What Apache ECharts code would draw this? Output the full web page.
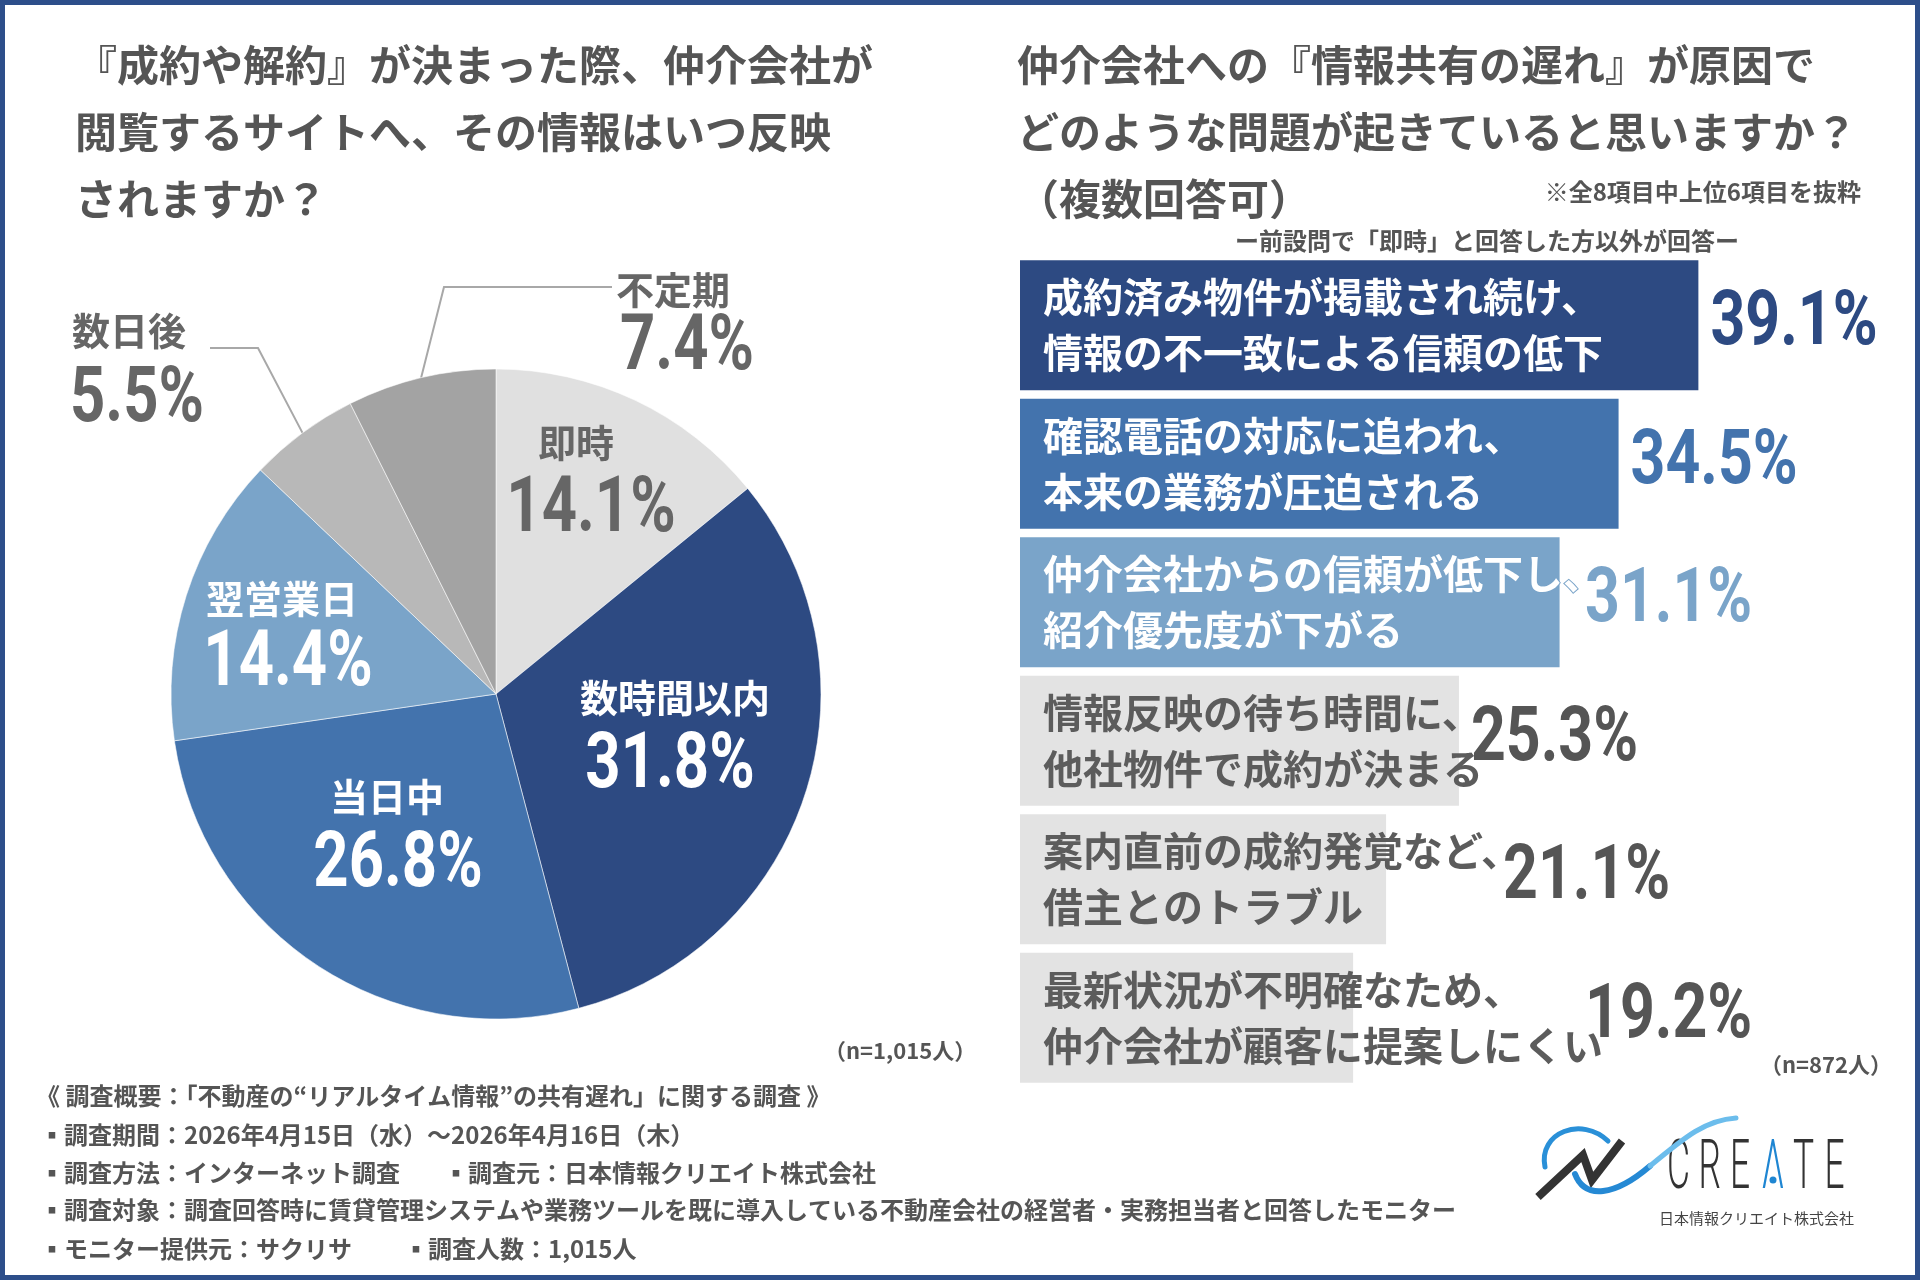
<!DOCTYPE html>
<html>
<head>
<meta charset="utf-8">
<title>情報共有の遅れに関する調査</title>
<script src="https://cdn.jsdelivr.net/npm/echarts@6/dist/echarts.min.js"></script>
<style>
  html, body { margin: 0; padding: 0; background: #fff; }
  #chart { width: 1920px; height: 1280px; }
</style>
</head>
<body>
<div id="chart"></div>
<script>
// 左：反映タイミング（円グラフ）
const pieNames = ['即時', '数時間以内', '当日中', '翌営業日', '数日後', '不定期'];
const pieValues = [14.1, 31.8, 26.8, 14.4, 5.5, 7.4];

// 右：起きている問題（横棒グラフ）
const barNames = [
  '成約済み物件が掲載され続け、\n情報の不一致による信頼の低下',
  '確認電話の対応に追われ、\n本来の業務が圧迫される',
  '仲介会社からの信頼が低下し、\n紹介優先度が下がる',
  '情報反映の待ち時間に、\n他社物件で成約が決まる',
  '案内直前の成約発覚など、\n借主とのトラブル',
  '最新状況が不明確なため、\n仲介会社が顧客に提案しにくい'
];
const barValues = [39.1, 34.5, 31.1, 25.3, 21.1, 19.2];

// 見た目
const NAVY = '#2d4a82', MID = '#4373ad', LIGHT = '#7aa4c9';
const pieColors = ['#e0e0e0', NAVY, MID, LIGHT, '#b8b8b8', '#a3a3a3'];
const pieTextColors = ['#666', '#fff', '#fff', '#fff', '#666', '#666'];
const barColors = [NAVY, MID, LIGHT, '#e3e3e3', '#e3e3e3', '#e3e3e3'];
const barTextColors = ['#fff', '#fff', '#fff', '#5c5c5c', '#5c5c5c', '#5c5c5c'];
const barValueColors = [NAVY, MID, LIGHT, '#555', '#555', '#555'];

const JP = '"Noto Sans CJK JP", "Noto Sans", sans-serif';
const NUM = 'Roboto, sans-serif';
const TXT = '#555';

const PIE_CX = 496, PIE_CY = 694, PIE_R = 325;
const GRID_LEFT = 1020, GRID_TOP = 256, GRID_W = 867.5, GRID_H = 831;
const TEXT_PAD = 23, BAR_FONT = 40;

// 円グラフのラベル配置（項目名・数値）
const pieLabelPos = [
  { name: [576, 443], value: [591, 512], align: 'center' },
  { name: [675, 698], value: [670, 768], align: 'center' },
  { name: [387, 797], value: [398, 867], align: 'center' },
  { name: [282, 599], value: [288, 666], align: 'center' },
  { name: [72, 331], value: [70, 402], align: 'left', elbow: [258, 348], end: [210, 348] },
  { name: [616, 290], value: [620, 350], align: 'left', elbow: [444, 287], end: [612, 287] }
];

const total = pieValues.reduce((a, b) => a + b, 0);
const midAngles = [];
let acc = 0;
pieValues.forEach(v => { midAngles.push((acc + v / 2) / total * 360); acc += v; });

function polar(frac, deg) {
  const r = PIE_R * frac, a = deg * Math.PI / 180;
  return [PIE_CX + r * Math.sin(a), PIE_CY - r * Math.cos(a)];
}

const pieData = pieNames.map((name, i) => ({
  name: name,
  value: pieValues[i],
  itemStyle: { color: pieColors[i] },
  label: { position: i < 4 ? 'inside' : 'outside', color: pieTextColors[i] },
  labelLine: { show: !!pieLabelPos[i].elbow }
}));

// 白文字は棒の色で縁取り（棒からはみ出した部分だけ見える）
const barData = barValues.map((v, i) => ({
  value: v,
  itemStyle: { color: barColors[i] },
  label: {
    color: barTextColors[i],
    textBorderColor: barTextColors[i] === '#fff' ? barColors[i] : 'transparent',
    textBorderWidth: barTextColors[i] === '#fff' ? 2 : 0
  }
}));

const measure = document.createElement('canvas').getContext('2d');
measure.font = 'bold ' + BAR_FONT + 'px "Noto Sans CJK JP"';
const barTextWidths = barNames.map(s =>
  Math.max.apply(null, s.split('\n').map(line => measure.measureText(line).width)));

function txt(text, x, y, size, opts) {
  return {
    type: 'text', x: x, y: y, silent: true,
    style: Object.assign({
      text: text, fill: TXT, fontSize: size, fontWeight: 'bold',
      fontFamily: JP, verticalAlign: 'middle'
    }, opts || {})
  };
}

function curve(p, width, color) {
  return {
    type: 'bezierCurve', silent: true,
    shape: { x1: p[0], y1: p[1], cpx1: p[2], cpy1: p[3], cpx2: p[4], cpy2: p[5], x2: p[6], y2: p[7] },
    style: { fill: null, stroke: color, lineWidth: width, lineCap: 'round' }
  };
}

// ロゴ CREATE
const logo = [];
const letters = ['C', 'R', 'E', 'Λ', 'T', 'E'];
letters.forEach((ch, i) => {
  logo.push({
    type: 'text', x: 1667 + i * 31.5, y: 1171, scaleX: 0.52, silent: true,
    style: {
      text: ch, fontSize: 68, fontWeight: 300, fontFamily: 'Roboto, sans-serif',
      fill: ch === 'Λ' ? '#1f86d2' : '#333', verticalAlign: 'middle'
    }
  });
});
logo.push({ type: 'circle', silent: true, shape: { cx: 1773, cy: 1180, r: 3.5 }, style: { fill: '#1f86d2' } });
logo.push(curve([1545, 1167, 1538, 1132, 1582, 1116, 1608, 1141], 5, '#2a90d8'));
logo.push({
  type: 'polyline', silent: true,
  shape: { points: [[1538, 1197], [1583, 1155], [1592, 1180], [1622, 1141]] },
  style: { fill: null, stroke: '#333', lineWidth: 8, lineJoin: 'miter' }
});
logo.push(curve([1575, 1174, 1585, 1200, 1615, 1196, 1650, 1166], 6, '#2589d4'));
logo.push(curve([1650, 1166, 1686, 1136, 1706, 1120, 1736, 1118], 5, '#6cbdec'));
logo.push(txt('日本情報クリエイト株式会社', 1659, 1218, 15, { fontWeight: 'normal', fill: '#444' }));

const chart = echarts.init(document.getElementById('chart'), null, { renderer: 'canvas' });

const option = {
  backgroundColor: '#fff',
  animation: false,
  title: [
    {
      text: '『成約や解約』が決まった際、仲介会社が\n閲覧するサイトへ、その情報はいつ反映\nされますか？',
      left: 70, top: 27,
      textStyle: { fontSize: 42, fontWeight: 'bold', color: TXT, fontFamily: JP, lineHeight: 67 }
    },
    {
      text: '仲介会社への『情報共有の遅れ』が原因で\nどのような問題が起きていると思いますか？\n（複数回答可）',
      left: 1012, top: 27,
      textStyle: { fontSize: 42, fontWeight: 'bold', color: TXT, fontFamily: JP, lineHeight: 67 }
    }
  ],
  grid: { left: GRID_LEFT, top: GRID_TOP, width: GRID_W, height: GRID_H },
  xAxis: { type: 'value', min: 0, max: 50, show: false },
  yAxis: { type: 'category', data: barNames, inverse: true, show: false },
  series: [
    {
      id: 'pie',
      type: 'pie',
      center: [PIE_CX, PIE_CY],
      radius: PIE_R,
      startAngle: 90,
      clockwise: true,
      itemStyle: { borderColor: 'rgba(255,255,255,0.55)', borderWidth: 1 },
      label: {
        show: true,
        formatter: '{b}',
        fontSize: 38,
        fontWeight: 'bold',
        fontFamily: JP
      },
      labelLine: { show: false, lineStyle: { color: '#a8a8a8', width: 2 } },
      labelLayout: function (p) {
        const pos = pieLabelPos[p.dataIndex];
        const out = { x: pos.name[0], y: pos.name[1], align: pos.align, verticalAlign: 'middle' };
        if (pos.elbow) {
          out.labelLinePoints = [polar(1, midAngles[p.dataIndex]), pos.elbow, pos.end];
        }
        return out;
      },
      emphasis: { disabled: true },
      data: pieData
    },
    {
      // 円グラフの数値（縦長の数字）
      id: 'pieValue',
      type: 'custom',
      coordinateSystem: 'none',
      silent: true,
      data: pieValues.map(v => [v]),
      renderItem: function (params, api) {
        const i = params.dataIndex;
        const pos = pieLabelPos[i];
        return {
          type: 'text', x: pos.value[0], y: pos.value[1], scaleX: 0.8,
          style: {
            text: api.value(0).toFixed(1) + '%', fill: pieTextColors[i],
            fontSize: 77, fontWeight: 'bold', fontFamily: NUM,
            align: pos.align, verticalAlign: 'middle'
          }
        };
      },
      z: 5
    },
    {
      id: 'barText',
      type: 'bar',
      barWidth: 130,
      data: barData,
      label: {
        show: true,
        position: 'insideLeft',
        distance: TEXT_PAD,
        formatter: p => p.name,
        fontSize: BAR_FONT,
        fontWeight: 'bold',
        fontFamily: JP,
        lineHeight: 56,
        align: 'left'
      },
      emphasis: { disabled: true },
      z: 2
    },
    {
      // 数値は棒の端か文字の端の右に置く
      id: 'barValue',
      type: 'custom',
      coordinateSystem: 'cartesian2d',
      silent: true,
      data: barValues.map((v, i) => [v, i]),
      encode: { x: 0, y: 1 },
      renderItem: function (params, api) {
        const i = params.dataIndex;
        const v = api.value(0);
        const pt = api.coord([v, i]);
        const textEnd = GRID_LEFT + TEXT_PAD + barTextWidths[i];
        const x = Math.max(pt[0] + 12, textEnd - 18);
        return {
          type: 'text', x: x, y: pt[1], scaleX: 0.8,
          style: {
            text: v.toFixed(1) + '%', fill: barValueColors[i],
            fontSize: 76, fontWeight: 'bold', fontFamily: NUM,
            align: 'left', verticalAlign: 'middle'
          }
        };
      },
      z: 5
    }
  ],
  graphic: [
    // 枠
    {
      type: 'rect', silent: true, z: 100,
      shape: { x: 0, y: 0, width: 1920, height: 1280 },
      style: { fill: null, stroke: '#2d4e8a', lineWidth: 10 }
    },
    txt('※全8項目中上位6項目を抜粋', 1861, 192, 24, { align: 'right' }),
    txt('ー前設問で「即時」と回答した方以外が回答ー', 1487, 241, 24, { align: 'center' }),
    txt('（n=1,015人）', 824, 1051, 22),
    txt('（n=872人）', 1760, 1065, 22),
    txt('《 調査概要：「不動産の“リアルタイム情報”の共有遅れ」に関する調査 》', 36, 1096, 24),
    txt('▪調査期間：2026年4月15日（水）～2026年4月16日（木）', 40, 1135, 24),
    txt('▪調査方法：インターネット調査', 40, 1173, 24),
    txt('▪調査元：日本情報クリエイト株式会社', 444, 1173, 24),
    txt('▪調査対象：調査回答時に賃貸管理システムや業務ツールを既に導入している不動産会社の経営者・実務担当者と回答したモニター', 40, 1210, 24),
    txt('▪モニター提供元：サクリサ', 40, 1249, 24),
    txt('▪調査人数：1,015人', 404, 1249, 24)
  ].concat(logo)
};

chart.setOption(option);
</script>
</body>
</html>
